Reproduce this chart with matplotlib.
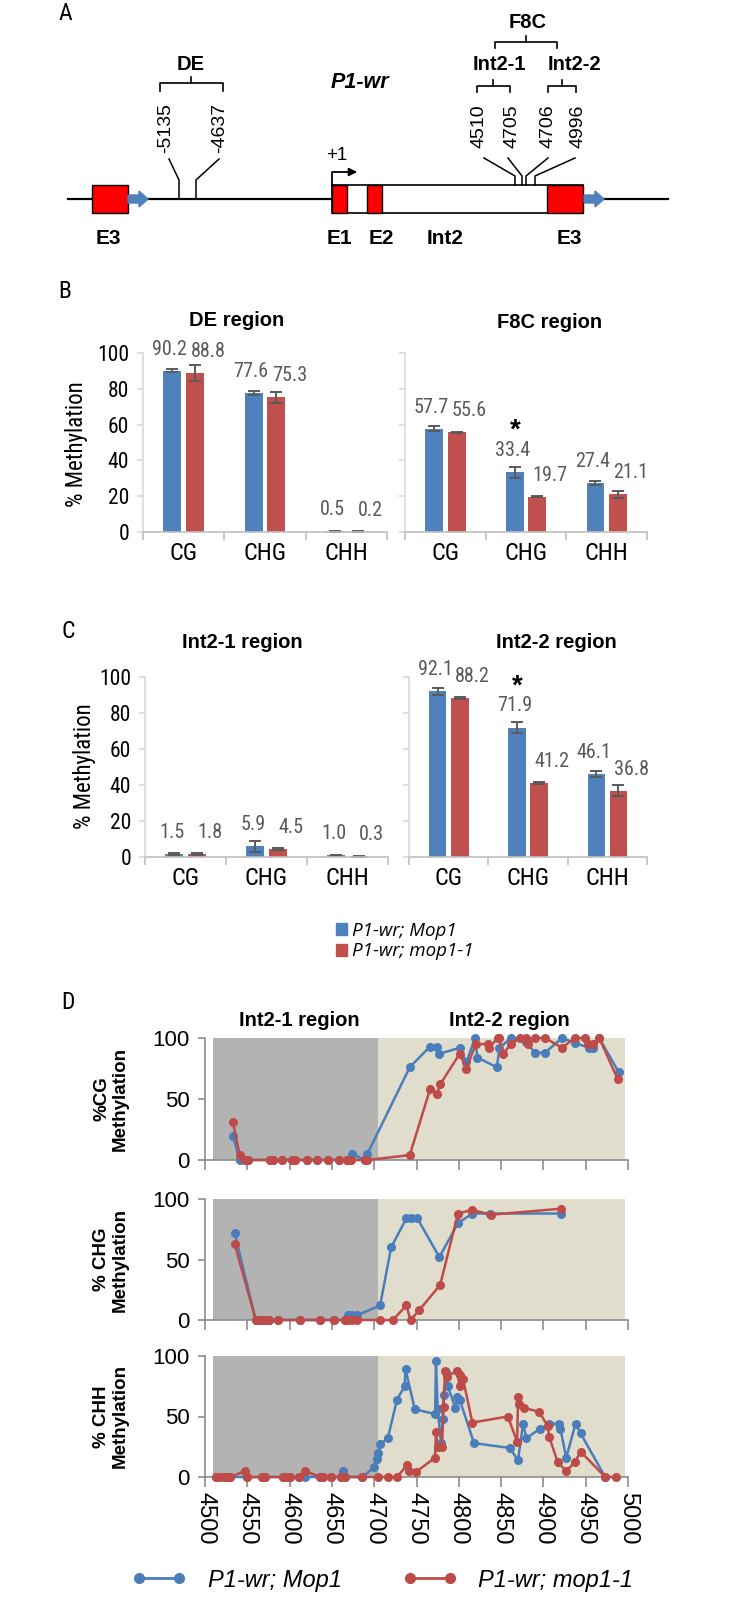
import matplotlib
matplotlib.use('Agg')
import matplotlib.pyplot as plt
import numpy as np
from matplotlib.patches import Rectangle, Polygon, Patch
from matplotlib.lines import Line2D

# ---- bar chart data (B, C) ----
contexts = ['CG', 'CHG', 'CHH']
de_mop1 = [90.2, 77.6, 0.5]
de_mop1_1 = [88.8, 75.3, 0.2]
de_err_mop1 = [1.0, 1.2, 0.3]
de_err_mop1_1 = [4.5, 3.0, 0.2]
f8c_mop1 = [57.7, 33.4, 27.4]
f8c_mop1_1 = [55.6, 19.7, 21.1]
f8c_err_mop1 = [1.5, 3.0, 1.0]
f8c_err_mop1_1 = [0.4, 0.3, 2.0]
int21_mop1 = [1.5, 5.9, 1.0]
int21_mop1_1 = [1.8, 4.5, 0.3]
int21_err_mop1 = [0.5, 3.0, 0.3]
int21_err_mop1_1 = [0.7, 0.5, 0.1]
int22_mop1 = [92.1, 71.9, 46.1]
int22_mop1_1 = [88.2, 41.2, 36.8]
int22_err_mop1 = [2.0, 3.0, 1.5]
int22_err_mop1_1 = [0.5, 0.5, 3.0]

# ---- per-site data (D) ----
cg_x_mop1 = [4533, 4541, 4547, 4551, 4577, 4580, 4591, 4603, 4606, 4621, 4632, 4645, 4658, 4668,
             4670, 4674, 4689, 4692, 4742, 4766, 4774, 4777, 4801, 4809, 4819, 4822, 4845, 4848,
             4862, 4879, 4890, 4902, 4922, 4937, 4954, 4959, 4966, 4989]
cg_y_mop1 = [20, 0, 0, 0, 0, 0, 0, 0, 0, 0, 0, 0, 0, 0,
             0, 5, 0, 5, 76, 93, 93, 87, 92, 80, 100, 84, 76, 92,
             100, 97, 88, 88, 100, 96, 92, 92, 100, 72]
cg_x_mop1_1 = [4533, 4541, 4547, 4551, 4577, 4580, 4591, 4603, 4606, 4621, 4632, 4645, 4658, 4668,
               4670, 4673, 4689, 4692, 4742, 4766, 4774, 4778, 4801, 4809, 4820, 4835, 4836, 4846,
               4848, 4852, 4862, 4872, 4879, 4882, 4890, 4902, 4922, 4937, 4949, 4953, 4959, 4966, 4988]
cg_y_mop1_1 = [31, 4, 0, 0, 0, 0, 0, 0, 0, 0, 0, 0, 0, 0,
               0, 0, 0, 0, 4, 58, 54, 62, 87, 75, 95, 95, 92, 100,
               100, 87, 95, 100, 100, 95, 100, 100, 92, 100, 100, 95, 95, 100, 66]

chg_x_mop1 = [4535, 4560, 4564, 4568, 4572, 4576, 4586, 4612, 4636, 4653, 4666, 4669, 4674, 4680,
              4707, 4720, 4738, 4743, 4751, 4777, 4799, 4816, 4837, 4921]
chg_y_mop1 = [72, 0, 0, 0, 0, 0, 0, 0, 0, 0, 0, 4, 4, 4,
              12, 60, 84, 84, 84, 52, 80, 88, 88, 88]
chg_x_mop1_1 = [4535, 4560, 4564, 4568, 4572, 4576, 4586, 4612, 4636, 4653, 4666, 4669, 4674, 4680,
                4707, 4722, 4738, 4743, 4753, 4778, 4799, 4816, 4838, 4921]
chg_y_mop1_1 = [63, 0, 0, 0, 0, 0, 0, 0, 0, 0, 0, 0, 0, 0,
                0, 0, 12, 0, 8, 29, 88, 91, 87, 92]

chh_x_mop1 = [4513, 4517, 4522, 4526, 4530, 4550, 4567, 4571, 4592, 4597, 4601, 4611, 4618, 4636,
              4640, 4649, 4661, 4663, 4665, 4686, 4700, 4703, 4705, 4707, 4716, 4727, 4736, 4737,
              4748, 4772, 4773, 4775, 4779, 4781, 4782, 4785, 4787, 4796, 4798, 4801, 4818, 4860,
              4870, 4876, 4880, 4896, 4907, 4918, 4920, 4927, 4938, 4944, 4973]
chh_y_mop1 = [0, 0, 0, 0, 0, 0, 0, 0, 0, 0, 0, 0, 0, 0,
              0, 0, 0, 5, 0, 0, 8, 15, 20, 27, 32, 64, 75, 89,
              56, 52, 96, 56, 28, 48, 68, 87, 75, 57, 66, 64, 28, 24,
              14, 44, 32, 40, 44, 44, 40, 16, 44, 36, 0]
chh_x_mop1_1 = [4513, 4517, 4522, 4526, 4530, 4547, 4550, 4567, 4571, 4592, 4597, 4601, 4611, 4618,
                4636, 4640, 4649, 4661, 4665, 4686, 4704, 4716, 4727, 4739, 4741, 4749, 4772, 4773,
                4775, 4780, 4782, 4784, 4786, 4798, 4801, 4802, 4805, 4816, 4858, 4869, 4870, 4871,
                4877, 4895, 4905, 4907, 4917, 4927, 4937, 4944, 4973, 4986]
chh_y_mop1_1 = [0, 0, 0, 0, 0, 5, 0, 0, 0, 0, 0, 0, 0, 5,
                0, 0, 0, 0, 0, 0, 0, 0, 0, 10, 5, 4, 16, 37,
                25, 25, 58, 88, 83, 88, 75, 84, 81, 45, 50, 29, 66, 60,
                57, 54, 42, 33, 12, 5, 12, 21, 0, 0]

BLUE = '#4F81BD'
RED = '#C0504D'
LBLUE = '#4A7EBB'
LRED = '#BE4B48'
NARROW = ['Liberation Sans Narrow', 'Roboto Condensed', 'Roboto', 'DejaVu Sans']
SANS = ['Liberation Sans', 'DejaVu Sans']

W, H = 729, 1599
fig = plt.figure(figsize=(W / 100, H / 100), dpi=100)


def px_axes(x0, y0, x1, y1):
    return fig.add_axes([x0 / W, 1 - y1 / H, (x1 - x0) / W, (y1 - y0) / H])


def ftext(x, y, s, **kw):
    fig.text(x / W, 1 - y / H, s, **kw)


# ================= A: gene diagram =================
ax = fig.add_axes([0, 1 - 290 / H, 1, 290 / H])
ax.set_xlim(0, W)
ax.set_ylim(290, 0)
ax.axis('off')
ftext(65, 14, 'A', fontsize=17, family=NARROW, ha='center', va='center')

ax.plot([68, 668], [199, 199], color='black', lw=1.6, zorder=1)


def block_arrow(x0):
    pts = [(x0, 195), (x0 + 11, 195), (x0 + 11, 191), (x0 + 20, 199),
           (x0 + 11, 207), (x0 + 11, 203), (x0, 203)]
    ax.add_patch(Polygon(pts, closed=True, color='#4F81BD', zorder=3))


ax.add_patch(Rectangle((92, 185), 36, 28, facecolor='#FF0000', edgecolor='black', lw=1, zorder=2))
block_arrow(128)
ax.add_patch(Rectangle((332, 185), 251, 28, facecolor='white', edgecolor='black', lw=1.2, zorder=2))
for x0, w in [(332, 15), (367, 15), (547, 36)]:
    ax.add_patch(Rectangle((x0, 185), w, 28, facecolor='#FF0000', edgecolor='black', lw=1, zorder=3))
block_arrow(584)

# +1 transcription start
ax.plot([332, 332, 350], [185, 172, 172], color='black', lw=1.3)
ax.annotate('', xy=(360, 172), xytext=(348, 172),
            arrowprops=dict(arrowstyle='-|>', color='black', lw=1.3, mutation_scale=12))
ax.text(337, 156, '+1', fontsize=13.5, family=SANS, ha='center', va='center')

# DE region
for xb, xt in [(179, 169), (196, 219)]:
    ax.plot([xb, xb, xt], [199, 180, 159], color='black', lw=1.1)
for xl, s in [(166, '-5135'), (220, '-4637')]:
    ax.text(xl, 153, s, fontsize=14, family=SANS, rotation=90, ha='center', va='bottom')
ax.plot([160, 160, 223, 223], [91, 83, 83, 91], color='black', lw=1.2)
ax.plot([191.5, 191.5], [83, 77], color='black', lw=1.2)
ax.text(191, 64, 'DE', fontsize=14.5, family=SANS, weight='bold', ha='center', va='center')

ax.text(360, 82, 'P1-wr', fontsize=15.5, family=SANS, weight='bold', style='italic',
        ha='center', va='center')

# F8C region
for xb, xt in [(515, 484), (522, 508), (526, 548), (535, 575)]:
    ax.plot([xb, xb, xt], [185, 176, 158], color='black', lw=1.1)
for xl, s in [(479, '4510'), (512, '4705'), (548, '4706'), (578, '4996')]:
    ax.text(xl, 148, s, fontsize=14, family=SANS, rotation=90, ha='center', va='bottom')
for xa, xb in [(477, 510), (548, 576)]:
    ax.plot([xa, xa, xb, xb], [92, 86, 86, 92], color='black', lw=1.2)
    ax.plot([(xa + xb) / 2] * 2, [86, 80], color='black', lw=1.2)
ax.text(499, 64, 'Int2-1', fontsize=14.5, family=SANS, weight='bold', ha='center', va='center')
ax.text(574, 64, 'Int2-2', fontsize=14.5, family=SANS, weight='bold', ha='center', va='center')
ax.plot([495, 495, 557, 557], [48, 42, 42, 48], color='black', lw=1.2)
ax.plot([526, 526], [42, 36], color='black', lw=1.2)
ax.text(528, 23, 'F8C', fontsize=14.5, family=SANS, weight='bold', ha='center', va='center')

for xl, s in [(108, 'E3'), (339, 'E1'), (381, 'E2'), (445, 'Int2'), (569, 'E3')]:
    ax.text(xl, 238, s, fontsize=15, family=SANS, weight='bold', ha='center', va='center')


# ================= B, C: bar charts =================
def bar_panel(ax, blue, red, blue_err, red_err, labels_on, star=None):
    x = np.arange(len(contexts))
    ekw = dict(ecolor='#5A5A5A', elinewidth=1.4, capsize=4, capthick=1.4)
    ax.bar(x - 0.14, blue, 0.22, color=BLUE, yerr=blue_err, error_kw=ekw, zorder=2)
    ax.bar(x + 0.14, red, 0.22, color=RED, yerr=red_err, error_kw=ekw, zorder=2)
    for i in range(len(contexts)):
        ax.text(i - 0.17, blue[i] + 12, f'{blue[i]:.1f}', fontsize=14.5, family=NARROW,
                color='#595959', ha='center', va='center', clip_on=False)
        ax.text(i + 0.30, red[i] + 12, f'{red[i]:.1f}', fontsize=14.5, family=NARROW,
                color='#595959', ha='center', va='center', clip_on=False)
    if star is not None:
        ax.text(star - 0.13, blue[star] + 23, '*', fontsize=20, weight='bold',
                ha='center', va='center', family=SANS)
    ax.set_xlim(-0.5, 2.5)
    ax.set_ylim(0, 100)
    ax.set_yticks(range(0, 101, 20))
    ax.set_xticks([-0.5, 0.5, 1.5, 2.5])
    ax.set_xticklabels([])
    ax.set_xticks(x, minor=True)
    ax.set_xticklabels(contexts, minor=True, fontsize=17.5, family=NARROW)
    ax.tick_params(axis='x', which='major', length=6, color='#BFBFBF', width=1.2)
    ax.tick_params(axis='x', which='minor', length=0, pad=7)
    ax.tick_params(axis='y', length=4, color='#D9D9D9', width=1.2, pad=6)
    if labels_on:
        ax.set_yticklabels([str(v) for v in range(0, 101, 20)], fontsize=15.5, family=NARROW)
    else:
        ax.set_yticklabels([])
    for s in ['top', 'right']:
        ax.spines[s].set_visible(False)
    ax.spines['left'].set_color('#D9D9D9')
    ax.spines['bottom'].set_color('#BFBFBF')
    ax.spines['left'].set_linewidth(1.2)
    ax.spines['bottom'].set_linewidth(1.2)


ftext(65, 292, 'B', fontsize=17, family=NARROW, ha='center', va='center')
axb1 = px_axes(143, 353, 387, 532)
bar_panel(axb1, de_mop1, de_mop1_1, de_err_mop1, de_err_mop1_1, True)
axb2 = px_axes(405, 353, 647, 532)
bar_panel(axb2, f8c_mop1, f8c_mop1_1, f8c_err_mop1, f8c_err_mop1_1, False, star=1)
ftext(237, 320, 'DE region', fontsize=14.5, family=SANS, weight='bold', ha='center', va='center')
ftext(550, 322, 'F8C region', fontsize=14.5, family=SANS, weight='bold', ha='center', va='center')
ftext(77, 444, '% Methylation', fontsize=16.5, family=NARROW, rotation=90, ha='center', va='center')

ftext(68, 632, 'C', fontsize=17, family=NARROW, ha='center', va='center')
axc1 = px_axes(145, 677, 388, 857)
bar_panel(axc1, int21_mop1, int21_mop1_1, int21_err_mop1, int21_err_mop1_1, True)
axc2 = px_axes(409, 677, 647, 857)
bar_panel(axc2, int22_mop1, int22_mop1_1, int22_err_mop1, int22_err_mop1_1, False, star=1)
ftext(242, 643, 'Int2-1 region', fontsize=14.5, family=SANS, weight='bold', ha='center', va='center')
ftext(556, 643, 'Int2-2 region', fontsize=14.5, family=SANS, weight='bold', ha='center', va='center')
ftext(84, 766, '% Methylation', fontsize=16.5, family=NARROW, rotation=90, ha='center', va='center')

fig.legend(handles=[Patch(color=BLUE), Patch(color=RED)],
           labels=['P1-wr; Mop1', 'P1-wr; mop1-1'],
           loc='upper left', bbox_to_anchor=(328 / W, 1 - 914 / H), frameon=False,
           handlelength=0.6, handleheight=0.6, handletextpad=0.3, labelspacing=0.15,
           borderaxespad=0, prop=dict(family='Open Sans', style='italic', size=13.5))


# ================= D: per-site profiles =================
ftext(68, 1003, 'D', fontsize=17, family=NARROW, ha='center', va='center')
ftext(299, 1020, 'Int2-1 region', fontsize=14.5, family=SANS, weight='bold', ha='center', va='center')
ftext(509, 1020, 'Int2-2 region', fontsize=14.5, family=SANS, weight='bold', ha='center', va='center')

site_panels = [
    (1038, 1160, '%CG\nMethylation', cg_x_mop1, cg_y_mop1, cg_x_mop1_1, cg_y_mop1_1),
    (1199, 1320, '% CHG\nMethylation', chg_x_mop1, chg_y_mop1, chg_x_mop1_1, chg_y_mop1_1),
    (1356, 1477, '% CHH\nMethylation', chh_x_mop1, chh_y_mop1, chh_x_mop1_1, chh_y_mop1_1),
]
for k, (top, bot, ylab, xb, yb, xr, yr) in enumerate(site_panels):
    axd = px_axes(205, top, 628, bot)
    axd.axvspan(4510, 4705, color='#B3B3B3', lw=0, zorder=0)
    axd.axvspan(4705, 4997, color='#E0DDCC', lw=0, zorder=0)
    axd.plot(xb, yb, color=LBLUE, lw=1.8, marker='o', ms=5.5, clip_on=False, zorder=3)
    axd.plot(xr, yr, color=LRED, lw=1.8, marker='o', ms=5.5, clip_on=False, zorder=4)
    axd.set_xlim(4500, 5000)
    axd.set_ylim(0, 100)
    axd.set_xticks(range(4500, 5001, 50))
    axd.set_yticks([0, 50, 100])
    axd.set_yticklabels(['0', '50', '100'], fontsize=16, family=SANS)
    if k == 2:
        axd.set_xticklabels([str(v) for v in range(4500, 5001, 50)], rotation=270,
                            fontsize=17, family=SANS)
    else:
        axd.set_xticklabels([])
    axd.tick_params(axis='x', length=7, color='#8C8C8C', width=1.2, pad=4)
    axd.tick_params(axis='y', length=5, color='#8C8C8C', width=1.2, pad=6)
    for s in ['top', 'right']:
        axd.spines[s].set_visible(False)
    for s in ['left', 'bottom']:
        axd.spines[s].set_color('#8C8C8C')
        axd.spines[s].set_linewidth(1.2)
    ftext(111, (top + bot) / 2, ylab, fontsize=13.5, family=SANS, weight='bold',
          rotation=90, ha='center', va='center', linespacing=1.1)

fig.legend(handles=[Line2D([], [], color=LBLUE, lw=2, marker='o', ms=7),
                    Line2D([], [], color=LRED, lw=2, marker='o', ms=7)],
           labels=['P1-wr; Mop1', 'P1-wr; mop1-1'], ncol=2, numpoints=2,
           loc='center', bbox_to_anchor=(0.525, 1 - 1580 / H), frameon=False,
           handlelength=2.3, columnspacing=2.6, handletextpad=0.9,
           prop=dict(family=SANS, style='italic', size=17))

fig.savefig('out.png', dpi=100)
